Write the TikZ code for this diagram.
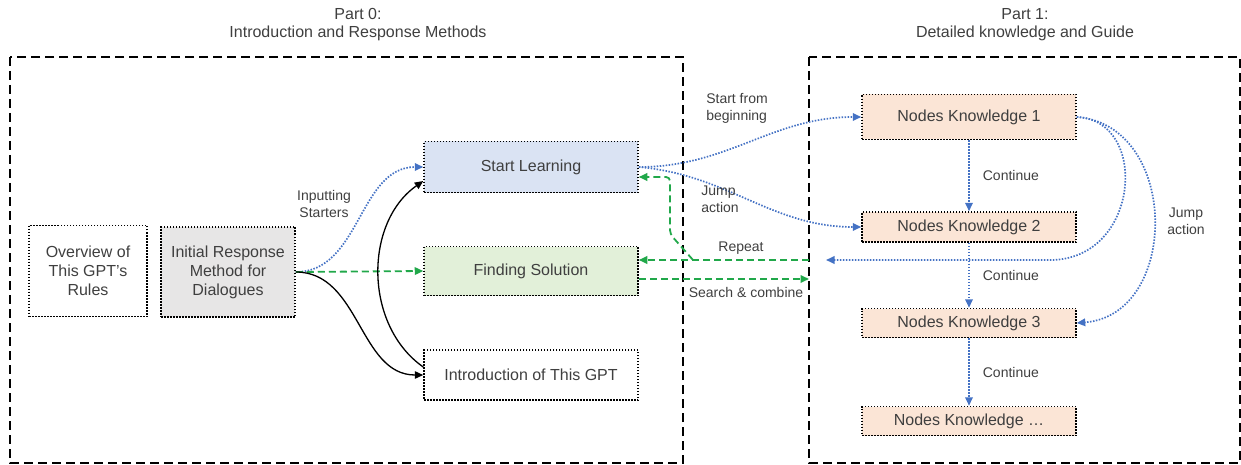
\documentclass[tikz,border=0pt]{standalone}
\usepackage{fontspec}
\setmainfont{Liberation Sans}
\usetikzlibrary{arrows.meta}

\definecolor{txtgray}{HTML}{3F3F3F}
\definecolor{jumpblue}{HTML}{4472C4}
\definecolor{solgreen}{HTML}{21A84A}
\definecolor{learnfill}{HTML}{DAE3F3}
\definecolor{solfill}{HTML}{E2F0D9}
\definecolor{initfill}{HTML}{E7E6E6}
\definecolor{knowfill}{HTML}{FBE5D6}

\begin{document}
\begin{tikzpicture}[x=1pt,y=-1pt,
    part/.style={draw,line width=1.5pt,dash pattern=on 9pt off 5pt},
    block/.style={draw,line width=1.5pt,dash pattern=on 1.5pt off 1.5pt,text=txtgray,
                  font=\fontsize{16}{19}\selectfont,align=center,inner sep=0pt},
    know/.style={block,fill=knowfill,minimum width=214pt},
    lbl/.style={text=txtgray,font=\fontsize{14}{17}\selectfont,inner sep=1pt},
    tip/.style={-{Triangle[length=8.5pt,width=7.5pt]}},
    jump/.style={tip,draw=jumpblue,line width=1.7pt,dash pattern=on 1.5pt off 1.5pt},
    sol/.style={tip,draw=solgreen,line width=1.8pt,dash pattern=on 7pt off 4pt},
    plain/.style={tip,draw=black,line width=1.3pt}]
  \useasboundingbox (0,0) rectangle (1241,465);

  % the two parts
  \draw[part] (10,57) rectangle (683,463);
  \draw[part] (809,57) rectangle (1240,463);
  \node[lbl,font=\fontsize{16}{18}\selectfont,align=center] (title0) at (358,25) {Part 0:\\Introduction and Response Methods};
  \node[lbl,font=\fontsize{16}{18}\selectfont,align=center] (title1) at (1025,25) {Part 1:\\Detailed knowledge and Guide};

  % part 0
  \node[block,minimum width=118pt,minimum height=91pt] (overview) at (88,271) {Overview of\\This GPT's\\Rules};
  \node[block,fill=initfill,minimum width=134pt,minimum height=90pt] (init) at (228,272) {Initial Response\\Method for\\Dialogues};
  \node[block,fill=learnfill,minimum width=214pt,minimum height=51pt] (start) at (531,167) {Start Learning};
  \node[block,fill=solfill,minimum width=214pt,minimum height=49pt] (find) at (531,271) {Finding Solution};
  \node[block,minimum width=214pt,minimum height=50pt] (intro) at (531,375) {Introduction of This GPT};

  % part 1
  \foreach[count=\i] \y/\h/\t in {117/45/1,227/30/2,323/29/3,421/29/…} {
    \node[know,minimum height=\h pt] (nk\i) at (969,\y) {Nodes Knowledge \t};
  }

  \coordinate (rep) at (809,260);
  \coordinate (srch) at (809,279);
  \coordinate (fork) at (693,260);
  \coordinate (back) at (826,260);

  % connectors in part 0
  \draw[jump] (init.east) to[out=0,in=180] (start.west);
  \draw[sol] (init.east) -- (find.west);
  \draw[plain] (init.east) to[out=0,in=180] (intro.west);
  \draw[plain] ([yshift=8pt]intro.west) to[out=145,in=215] ([yshift=-14pt]start.west);
  \node[lbl,align=center] (inlbl) at (324,204) {Inputting\\Starters};

  % between the parts
  \draw[jump] (start.east) to[out=0,in=180] (nk1.west);
  \draw[jump] (start.east) to[out=-5,in=180] (nk2.west);
  \draw[sol] (rep) -- (rep -| find.east);
  \draw[sol] (srch -| find.east) -- (srch);
  \draw[sol,rounded corners=4pt] (fork) -- ++(-23,-26) |- ([yshift=-10pt]start.east);
  \node[lbl,align=left] (fromlbl) at (737,108) {Start from\\beginning};
  \node[lbl,align=left] (jumplbl) at (720,199) {Jump\\action};
  \node[lbl] (replbl) at (741,248) {Repeat};
  \node[lbl] (srchlbl) at (746,292) {Search \& combine};

  % connectors in part 1
  \foreach \i/\j in {1/2,2/3,3/4} {
    \draw[jump] (nk\i) -- node[lbl,right=12pt] {Continue} (nk\j);
  }
  \draw[jump] (nk1.east) .. controls (1150,120) and (1140,260) .. (1050,260) -- (back);
  \draw[jump] (nk1.east) .. controls (1180,125) and (1180,315) .. (nk3.east);
  \node[lbl,align=center] (jump2lbl) at (1186,221) {Jump\\action};
\end{tikzpicture}
\end{document}
